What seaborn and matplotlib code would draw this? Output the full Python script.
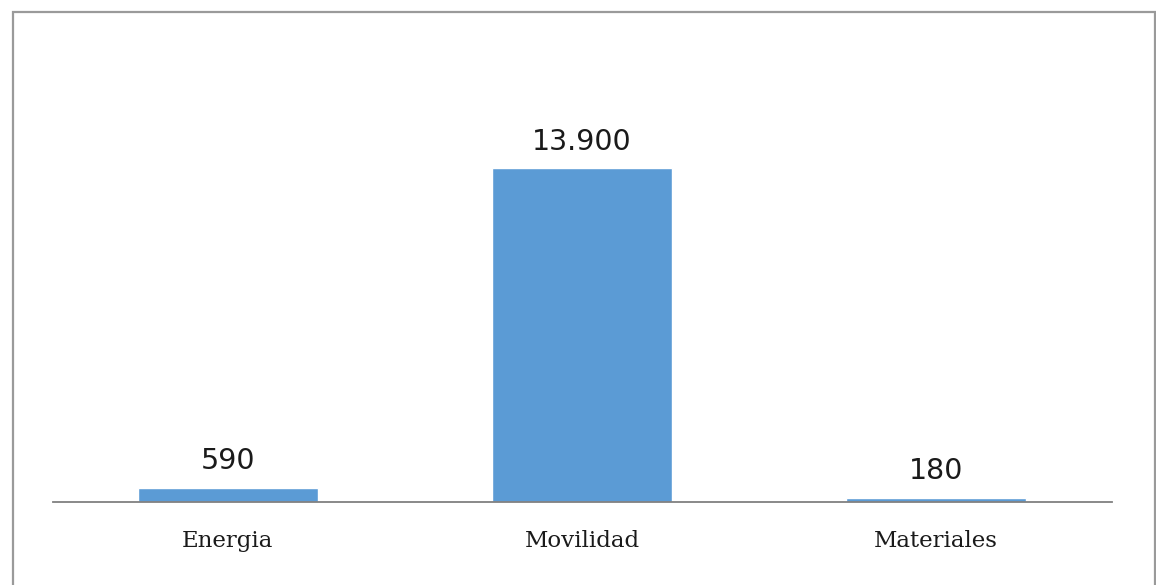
import matplotlib
matplotlib.use("Agg")
import matplotlib.pyplot as plt
import seaborn as sns
import pandas as pd
from matplotlib.patches import Rectangle

categories = ["Energia", "Movilidad", "Materiales"]
values = [590, 13900, 180]
value_labels = ["590", "13.900", "180"]

sns.set_theme(style="white")
plt.rcParams['font.family'] = ['DejaVu Sans']

df = pd.DataFrame({"categoria": categories, "valor": values})

fig = plt.figure(figsize=(11.56, 5.85), dpi=100)
W, H = 1156, 585
left, right = 53, 1112
base_y = 502
top_px = 60
ax = fig.add_axes([left / W, (H - base_y) / H, (right - left) / W, (base_y - top_px) / H])

sns.barplot(data=df, x="categoria", y="valor", color="#5B9BD5", width=0.51,
            saturation=1, ax=ax)

# y scale: 13900 -> 334 px above baseline
ymax = 13900 * (base_y - top_px) / 334
ax.set_ylim(0, ymax)
ax.set_xlim(-0.494, 2.497)

ax.bar_label(ax.containers[0], labels=value_labels, padding=9,
             fontsize=20.5, color="#1a1a1a", family="DejaVu Sans")

ax.set_xlabel("")
ax.set_ylabel("")
ax.set_yticks([])
ax.tick_params(axis="x", length=0, pad=20)
for lab in ax.get_xticklabels():
    lab.set_family("DejaVu Serif")
    lab.set_fontsize(16.5)
    lab.set_color("#1a1a1a")

for s in ["top", "left", "right"]:
    ax.spines[s].set_visible(False)
ax.spines["bottom"].set_color("#808080")
ax.spines["bottom"].set_linewidth(1.3)

# outer chart border
border = Rectangle((13 / W, -0.05), (1155 - 13) / W, (H - 12) / H + 0.05,
                   transform=fig.transFigure, fill=False,
                   edgecolor="#9a9a9a", linewidth=1.6, clip_on=False)
fig.patches.append(border)

fig.savefig("out.png", dpi=100, facecolor="white")
